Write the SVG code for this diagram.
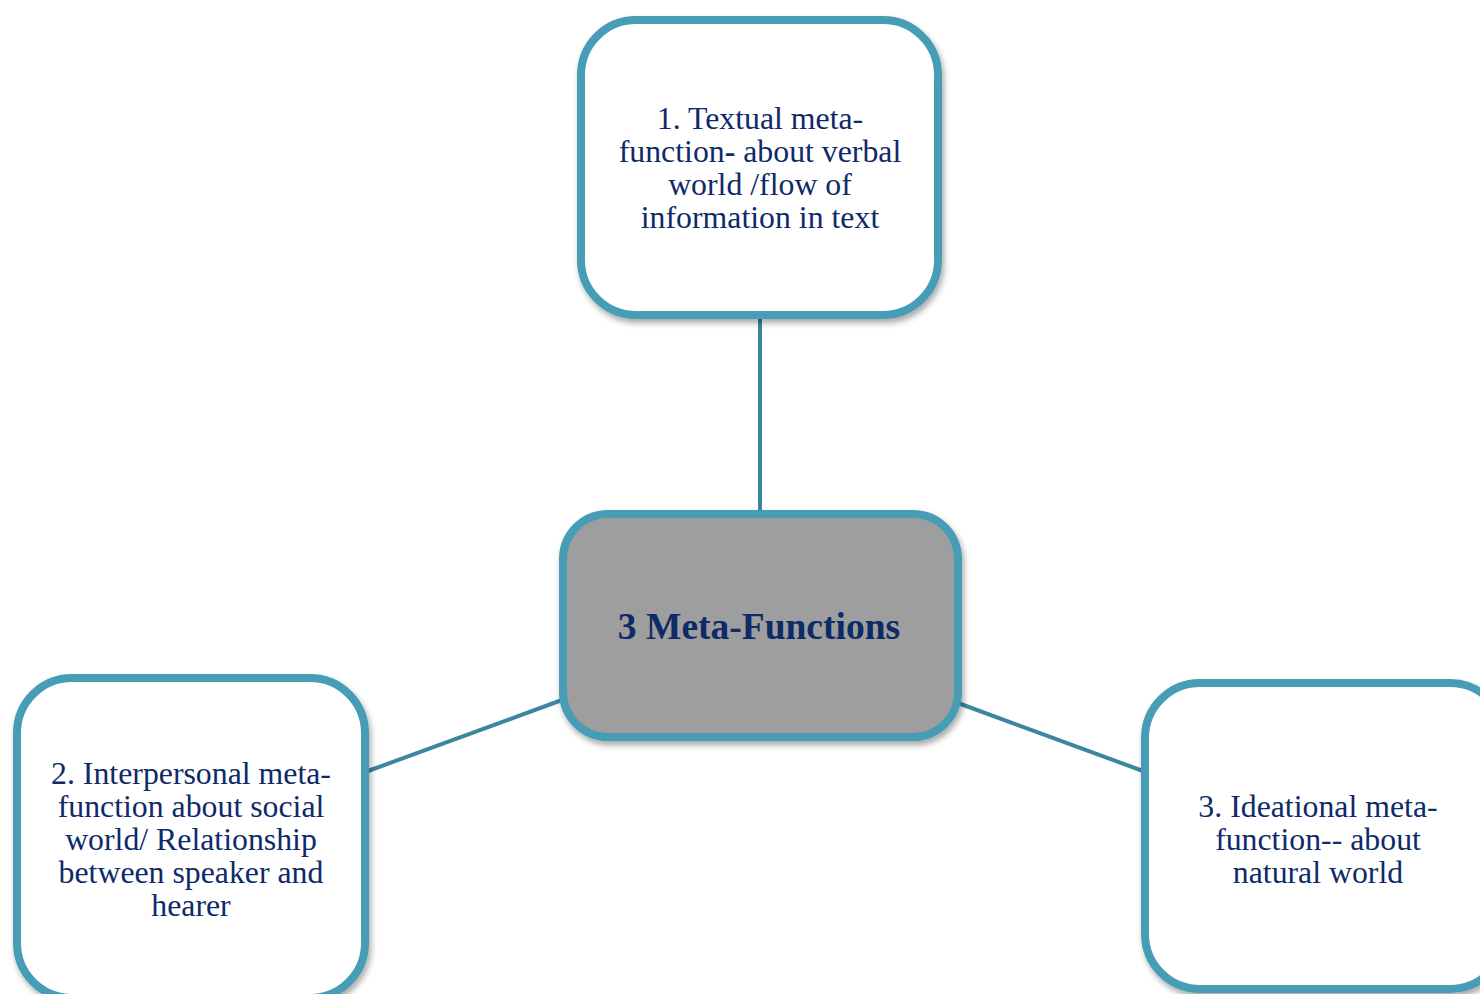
<svg xmlns="http://www.w3.org/2000/svg" width="1480" height="994" viewBox="0 0 1480 994">
<defs>
<filter id="sh" x="-10%" y="-10%" width="125%" height="125%">
<feGaussianBlur in="SourceAlpha" stdDeviation="3"/>
<feOffset dx="2" dy="4" result="b"/>
<feComponentTransfer><feFuncA type="linear" slope="0.35"/></feComponentTransfer>
<feMerge><feMergeNode/><feMergeNode in="SourceGraphic"/></feMerge>
</filter>
</defs>
<style>
.box{fill:#ffffff;stroke:#479db5;stroke-width:8;filter:url(#sh)}
.center{fill:#9e9e9e;stroke:#479db5;stroke-width:8;filter:url(#sh)}
.t{font-family:"Liberation Serif","Times New Roman",serif;font-size:31.8px;fill:#0e2a68;text-anchor:middle}
.tb{font-family:"Liberation Serif","Times New Roman",serif;font-size:37.5px;font-weight:bold;fill:#0e2a68;text-anchor:middle}
.c{stroke:#3b87a0;stroke-width:4;fill:none}
</style>
<rect width="1480" height="994" fill="#ffffff"/>
<g id="connectors">
<line class="c" x1="760" y1="318" x2="760" y2="514"/>
<line class="c" x1="368" y1="771" x2="562" y2="700"/>
<line class="c" x1="958" y1="703" x2="1143" y2="771"/>
</g>
<g id="node-textual">
<rect class="box" x="581" y="20" width="357" height="295" rx="55"/>
<text class="t" x="760"><tspan x="760" y="129">1. Textual meta-</tspan><tspan x="760" y="162">function<tspan font-weight="bold">-</tspan> about verbal</tspan><tspan x="760" y="195">world /flow of</tspan><tspan x="760" y="228">information in text</tspan></text>
</g>
<g id="node-center">
<rect class="center" x="563" y="514" width="395" height="223" rx="45"/>
<text class="tb" x="759" y="639">3 Meta-Functions</text>
</g>
<g id="node-interpersonal">
<rect class="box" x="17" y="678" width="348" height="320" rx="55"/>
<text class="t"><tspan x="191" y="784">2. Interpersonal meta-</tspan><tspan x="191" y="817">function about social</tspan><tspan x="191" y="850">world/ Relationship</tspan><tspan x="191" y="883">between speaker and</tspan><tspan x="191" y="916">hearer</tspan></text>
</g>
<g id="node-ideational">
<rect class="box" x="1145" y="683" width="360" height="306" rx="55"/>
<text class="t"><tspan x="1318" y="817">3. Ideational meta-</tspan><tspan x="1318" y="850">function-- about</tspan><tspan x="1318" y="883">natural world</tspan></text>
</g>
</svg>
